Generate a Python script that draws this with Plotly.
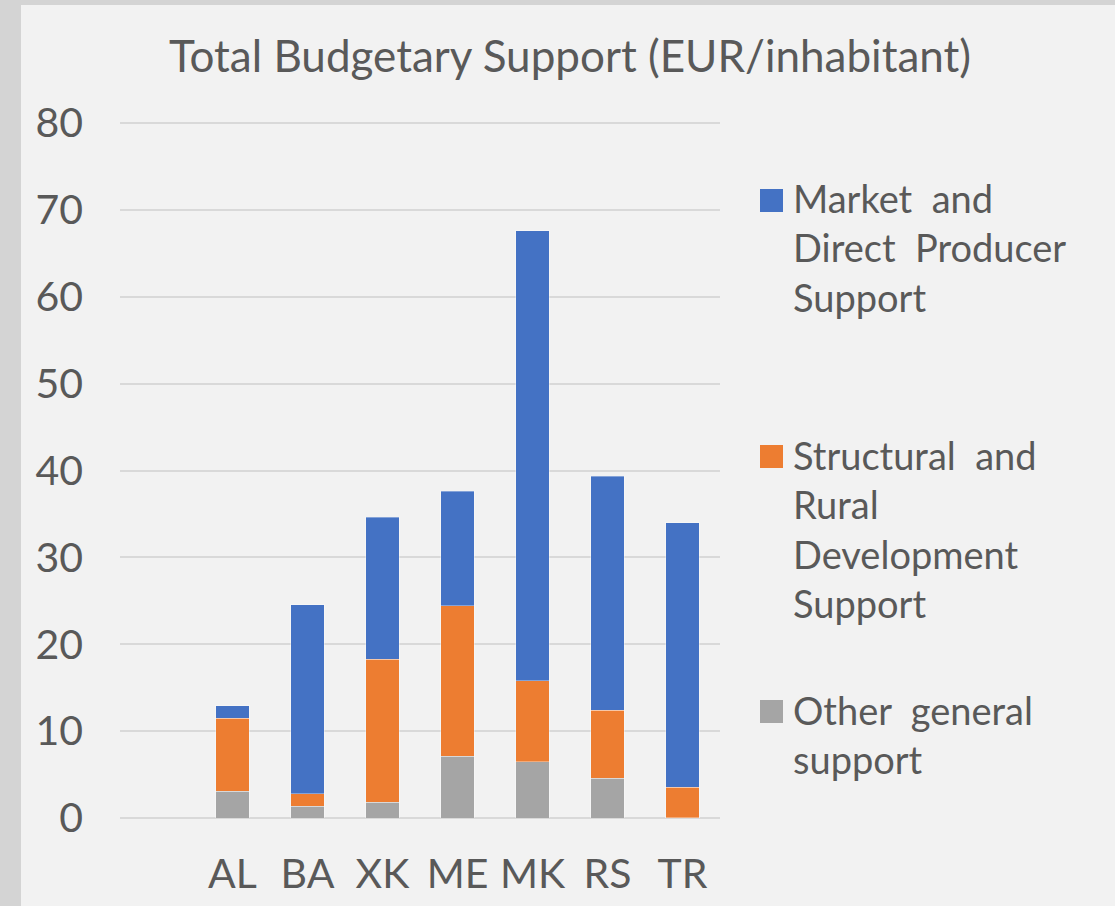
import plotly.graph_objects as go

categories = ["AL", "BA", "XK", "ME", "MK", "RS", "TR"]
other_general = [3.1, 1.35, 1.8, 7.1, 6.45, 4.6, 0.05]
structural_rural = [8.4, 1.45, 16.45, 17.35, 9.35, 7.8, 3.5]
market_direct = [1.4, 21.75, 16.35, 13.15, 51.8, 26.95, 30.45]
y_ticks = [0, 10, 20, 30, 40, 50, 60, 70, 80]

series = [
    ("Other  general<br>support", other_general, "#A5A5A5"),
    ("Structural  and<br>Rural<br>Development<br>Support", structural_rural, "#ED7D31"),
    ("Market  and<br>Direct  Producer<br>Support", market_direct, "#4472C4"),
]

TEXT = "#595959"
FONT = "Lato"

fig = go.Figure()
for name, vals, color in series:
    fig.add_trace(go.Bar(
        x=categories, y=vals, name=name, width=0.45,
        marker=dict(color=color, line=dict(color="rgba(255,255,255,0.35)", width=1)),
        showlegend=False,
    ))

# plot-area geometry in pixels
L, R, T, B = 120, 720, 120, 818
UNIT = (818 - 123) / 80.0
y_top = (B - T) / UNIT

def px_x(px):
    return (px - L) / (R - L)
def px_y(py):
    return (B - py) / (B - T)

shapes = [
    dict(type="rect", xref="paper", yref="paper", layer="below",
         x0=px_x(21), x1=px_x(1120), y0=px_y(910), y1=px_y(5),
         fillcolor="#F2F2F2", line=dict(width=0)),
]
annotations = []
legend_items = [
    (series[2], 189, 248),
    (series[1], 445, 529),
    (series[0], 700, 734),
]
for (name, vals, color), sq_top, txt_mid in legend_items:
    shapes.append(dict(type="rect", xref="paper", yref="paper",
                       x0=px_x(760), x1=px_x(783), y0=px_y(sq_top + 23), y1=px_y(sq_top),
                       fillcolor=color, line=dict(width=0)))
    annotations.append(dict(xref="paper", yref="paper", x=px_x(791), y=px_y(txt_mid),
                            xanchor="left", yanchor="middle", align="left",
                            text=name, showarrow=False,
                            font=dict(family=FONT, size=38, color=TEXT)))

fig.update_layout(
    width=1115, height=906,
    barmode="stack",
    paper_bgcolor="#D4D4D4",
    plot_bgcolor="rgba(0,0,0,0)",
    margin=dict(l=L, r=1115 - R, t=T, b=906 - B, pad=0, autoexpand=False),
    font=dict(family=FONT, color=TEXT),
    title=dict(text="Total Budgetary Support (EUR/inhabitant)",
               x=570 / 1115, xanchor="center", y=1 - 57 / 906, yanchor="middle",
               font=dict(family=FONT, size=44, color=TEXT)),
    xaxis=dict(type="category", categoryorder="array", categoryarray=categories,
               range=[-1.5, 6.5], showgrid=False, showline=False, zeroline=False,
               ticks="", ticklabelstandoff=28, automargin=False,
               tickfont=dict(family=FONT, size=41, color=TEXT)),
    yaxis=dict(range=[0, y_top], tickvals=y_ticks, showgrid=True, gridcolor="#D9D9D9",
               gridwidth=1.5, zeroline=True, zerolinecolor="#D9D9D9", zerolinewidth=1.5,
               showline=False, ticks="", ticklabelstandoff=36, automargin=False,
               tickfont=dict(family=FONT, size=41, color=TEXT)),
    shapes=shapes,
    annotations=annotations,
)

post = (
    "document.documentElement.style.margin='0';"
    "document.documentElement.style.overflow='hidden';"
    "document.body.style.margin='0';"
    "document.body.style.overflow='hidden';"
    "document.body.style.background='#F2F2F2';"
)

fig.write_html("out.html", post_script=post, config={"displayModeBar": False})
